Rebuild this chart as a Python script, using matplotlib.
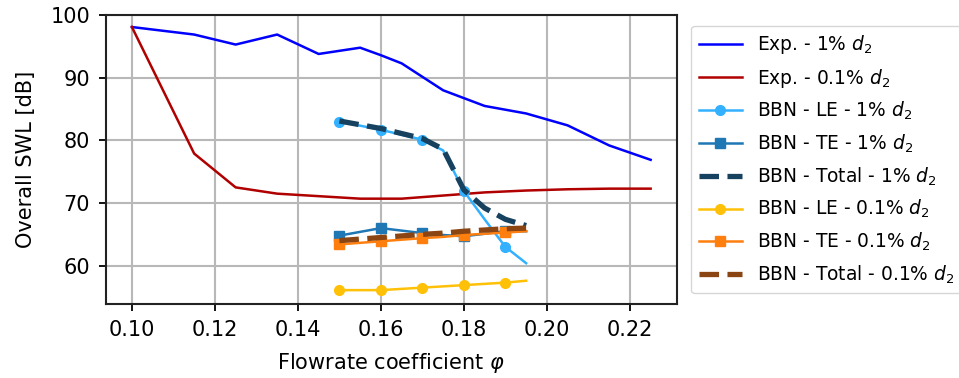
import matplotlib
matplotlib.use("Agg")
import matplotlib.pyplot as plt

# Experimental data
phi_exp = [0.100, 0.115, 0.125, 0.135, 0.145, 0.155, 0.160, 0.165,
           0.175, 0.185, 0.195, 0.205, 0.215, 0.225]
swl_exp_1 = [98.1, 96.9, 95.3, 96.9, 93.8, 94.8, 93.6, 92.3,
             88.0, 85.5, 84.3, 82.4, 79.2, 76.9]
swl_exp_01 = [98.1, 77.9, 72.5, 71.5, 71.1, 70.7, 70.7, 70.7,
              71.2, 71.7, 72.0, 72.2, 72.3, 72.3]

# BBN model data
phi_bbn = [0.150, 0.160, 0.170, 0.175, 0.180, 0.185, 0.190, 0.195]
le_1 = [83.0, 81.7, 80.1, 78.4, 71.9, 67.4, 63.0, 60.4]
te_1 = [64.8, 66.0, 65.2, 64.9, 64.7, 65.1, 65.5, 65.5]
tot_1 = [83.1, 81.9, 80.3, 78.6, 72.1, 69.2, 67.4, 66.4]
le_01 = [56.1, 56.1, 56.5, 56.7, 56.9, 57.1, 57.3, 57.6]
te_01 = [63.4, 63.9, 64.4, 64.6, 64.9, 65.1, 65.3, 65.5]
tot_01 = [64.0, 64.5, 65.0, 65.2, 65.5, 65.7, 65.9, 66.0]

MARK = [0, 1, 2, 4, 6]


def main():
    plt.rcParams["font.size"] = 15
    fig = plt.figure(figsize=(9.59, 3.78), dpi=100)
    ax = fig.add_axes([0.1105, 0.196, 0.595, 0.764])

    ax.plot(phi_exp, swl_exp_1, color="#0000ff", lw=1.8,
            label=r"Exp. - 1% $d_2$")
    ax.plot(phi_exp, swl_exp_01, color="#b00000", lw=1.8,
            label=r"Exp. - 0.1% $d_2$")
    ax.plot(phi_bbn, le_1, color="#33b1ff", lw=1.8, marker="o", ms=7,
            markevery=MARK, label=r"BBN - LE - 1% $d_2$")
    ax.plot(phi_bbn, te_1, color="#1f77b4", lw=1.8, marker="s", ms=7,
            markevery=MARK, label=r"BBN - TE - 1% $d_2$")
    ax.plot(phi_bbn, tot_1, color="#16415f", lw=3.8, ls="--",
            label=r"BBN - Total - 1% $d_2$")
    ax.plot(phi_bbn, le_01, color="#ffc107", lw=1.8, marker="o", ms=7,
            markevery=MARK, label=r"BBN - LE - 0.1% $d_2$")
    ax.plot(phi_bbn, te_01, color="#ff7f0e", lw=1.8, marker="s", ms=7,
            markevery=MARK, label=r"BBN - TE - 0.1% $d_2$")
    ax.plot(phi_bbn, tot_01, color="#8b4513", lw=3.8, ls="--",
            label=r"BBN - Total - 0.1% $d_2$")

    ax.set_xlim(0.09375, 0.23125)
    ax.set_ylim(53.9, 100)
    ax.set_xticks([0.10, 0.12, 0.14, 0.16, 0.18, 0.20, 0.22])
    ax.set_yticks([60, 70, 80, 90, 100])
    ax.tick_params(length=5, width=1.3, pad=6.5)
    ax.grid(True, color="#b8b8b8", lw=1.5)
    ax.set_axisbelow(True)
    for s in ax.spines.values():
        s.set_linewidth(1.5)
        s.set_color("#222222")

    ax.set_xlabel(r"Flowrate coefficient $\varphi$", labelpad=8)
    ax.set_ylabel("Overall SWL [dB]", labelpad=10)

    ax.legend(loc="center left", bbox_to_anchor=(1.026, 0.5),
              fontsize=13.4, labelspacing=0.56, handlelength=2.3,
              borderaxespad=0.0)

    fig.savefig("out.png", dpi=100)


if __name__ == "__main__":
    main()
